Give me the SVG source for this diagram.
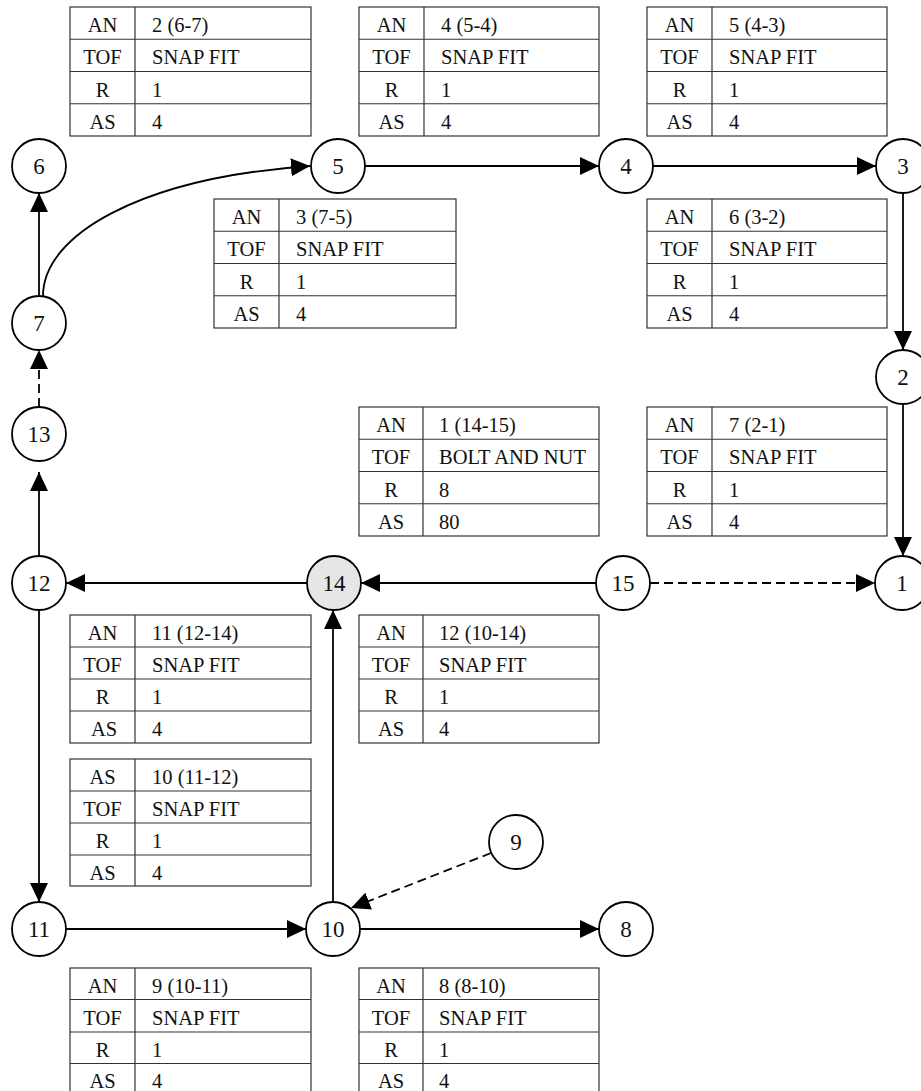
<svg xmlns="http://www.w3.org/2000/svg" width="921" height="1091" viewBox="0 0 921 1091">
<defs>
<style>
.bg{fill:#ffffff}
.tb rect,.tb line{fill:none;stroke:#333;stroke-width:1.2}
.tb text{font-family:"Liberation Serif","Times New Roman",serif;font-size:20.5px;fill:#111}
.tb .k{text-anchor:middle}
.nd circle{fill:#fff;stroke:#000;stroke-width:1.8}
.nd text{font-family:"Liberation Serif","Times New Roman",serif;font-size:23px;fill:#111;text-anchor:middle}
.e{fill:none;stroke:#000;stroke-width:1.8;marker-end:url(#ah)}
.d{stroke-dasharray:9,5}
</style>
<marker id="ah" viewBox="0 0 19 18" refX="19" refY="9" markerWidth="19" markerHeight="18" markerUnits="userSpaceOnUse" orient="auto">
<path d="M0,0 L19,9 L0,18 z" fill="#000"/>
</marker>
</defs>
<rect class="bg" x="0" y="0" width="921" height="1091"/>

<!-- tables -->
<g id="t-an2" class="tb" transform="translate(70,7)">
<rect x="0" y="0" width="241" height="129"/><line x1="65" y1="0" x2="65" y2="129"/><line x1="0" y1="32.25" x2="241" y2="32.25"/><line x1="0" y1="64.5" x2="241" y2="64.5"/><line x1="0" y1="96.75" x2="241" y2="96.75"/>
<text class="k" x="32.5" y="25">AN</text><text x="82" y="25">2 (6-7)</text>
<text class="k" x="32.5" y="57">TOF</text><text x="82" y="57">SNAP FIT</text>
<text class="k" x="32.5" y="89.5">R</text><text x="82" y="89.5">1</text>
<text class="k" x="32.5" y="121.5">AS</text><text x="82" y="121.5">4</text>
</g>
<g id="t-an4" class="tb" transform="translate(359,7)">
<rect x="0" y="0" width="240" height="129"/><line x1="65" y1="0" x2="65" y2="129"/><line x1="0" y1="32.25" x2="240" y2="32.25"/><line x1="0" y1="64.5" x2="240" y2="64.5"/><line x1="0" y1="96.75" x2="240" y2="96.75"/>
<text class="k" x="32.5" y="25">AN</text><text x="82" y="25">4 (5-4)</text>
<text class="k" x="32.5" y="57">TOF</text><text x="82" y="57">SNAP FIT</text>
<text class="k" x="32.5" y="89.5">R</text><text x="82" y="89.5">1</text>
<text class="k" x="32.5" y="121.5">AS</text><text x="82" y="121.5">4</text>
</g>
<g id="t-an5" class="tb" transform="translate(647,7)">
<rect x="0" y="0" width="240" height="129"/><line x1="65" y1="0" x2="65" y2="129"/><line x1="0" y1="32.25" x2="240" y2="32.25"/><line x1="0" y1="64.5" x2="240" y2="64.5"/><line x1="0" y1="96.75" x2="240" y2="96.75"/>
<text class="k" x="32.5" y="25">AN</text><text x="82" y="25">5 (4-3)</text>
<text class="k" x="32.5" y="57">TOF</text><text x="82" y="57">SNAP FIT</text>
<text class="k" x="32.5" y="89.5">R</text><text x="82" y="89.5">1</text>
<text class="k" x="32.5" y="121.5">AS</text><text x="82" y="121.5">4</text>
</g>
<g id="t-an3" class="tb" transform="translate(214,199)">
<rect x="0" y="0" width="242" height="129"/><line x1="65" y1="0" x2="65" y2="129"/><line x1="0" y1="32.25" x2="242" y2="32.25"/><line x1="0" y1="64.5" x2="242" y2="64.5"/><line x1="0" y1="96.75" x2="242" y2="96.75"/>
<text class="k" x="32.5" y="25">AN</text><text x="82" y="25">3 (7-5)</text>
<text class="k" x="32.5" y="57">TOF</text><text x="82" y="57">SNAP FIT</text>
<text class="k" x="32.5" y="89.5">R</text><text x="82" y="89.5">1</text>
<text class="k" x="32.5" y="121.5">AS</text><text x="82" y="121.5">4</text>
</g>
<g id="t-an6" class="tb" transform="translate(647,199)">
<rect x="0" y="0" width="240" height="129"/><line x1="65" y1="0" x2="65" y2="129"/><line x1="0" y1="32.25" x2="240" y2="32.25"/><line x1="0" y1="64.5" x2="240" y2="64.5"/><line x1="0" y1="96.75" x2="240" y2="96.75"/>
<text class="k" x="32.5" y="25">AN</text><text x="82" y="25">6 (3-2)</text>
<text class="k" x="32.5" y="57">TOF</text><text x="82" y="57">SNAP FIT</text>
<text class="k" x="32.5" y="89.5">R</text><text x="82" y="89.5">1</text>
<text class="k" x="32.5" y="121.5">AS</text><text x="82" y="121.5">4</text>
</g>
<g id="t-an1" class="tb" transform="translate(359,407)">
<rect x="0" y="0" width="240" height="129"/><line x1="64" y1="0" x2="64" y2="129"/><line x1="0" y1="32.25" x2="240" y2="32.25"/><line x1="0" y1="64.5" x2="240" y2="64.5"/><line x1="0" y1="96.75" x2="240" y2="96.75"/>
<text class="k" x="32" y="25">AN</text><text x="80" y="25">1 (14-15)</text>
<text class="k" x="32" y="57">TOF</text><text x="80" y="57">BOLT AND NUT</text>
<text class="k" x="32" y="89.5">R</text><text x="80" y="89.5">8</text>
<text class="k" x="32" y="121.5">AS</text><text x="80" y="121.5">80</text>
</g>
<g id="t-an7" class="tb" transform="translate(647,407)">
<rect x="0" y="0" width="240" height="129"/><line x1="65" y1="0" x2="65" y2="129"/><line x1="0" y1="32.25" x2="240" y2="32.25"/><line x1="0" y1="64.5" x2="240" y2="64.5"/><line x1="0" y1="96.75" x2="240" y2="96.75"/>
<text class="k" x="32.5" y="25">AN</text><text x="82" y="25">7 (2-1)</text>
<text class="k" x="32.5" y="57">TOF</text><text x="82" y="57">SNAP FIT</text>
<text class="k" x="32.5" y="89.5">R</text><text x="82" y="89.5">1</text>
<text class="k" x="32.5" y="121.5">AS</text><text x="82" y="121.5">4</text>
</g>
<g id="t-an11" class="tb" transform="translate(70,615)">
<rect x="0" y="0" width="241" height="128"/><line x1="65" y1="0" x2="65" y2="128"/><line x1="0" y1="32" x2="241" y2="32"/><line x1="0" y1="64" x2="241" y2="64"/><line x1="0" y1="96" x2="241" y2="96"/>
<text class="k" x="32.5" y="25">AN</text><text x="82" y="25">11 (12-14)</text>
<text class="k" x="32.5" y="57">TOF</text><text x="82" y="57">SNAP FIT</text>
<text class="k" x="32.5" y="89">R</text><text x="82" y="89">1</text>
<text class="k" x="34" y="121">AS</text><text x="82" y="121">4</text>
</g>
<g id="t-an12" class="tb" transform="translate(359,615)">
<rect x="0" y="0" width="240" height="128"/><line x1="64" y1="0" x2="64" y2="128"/><line x1="0" y1="32" x2="240" y2="32"/><line x1="0" y1="64" x2="240" y2="64"/><line x1="0" y1="96" x2="240" y2="96"/>
<text class="k" x="32" y="25">AN</text><text x="80" y="25">12 (10-14)</text>
<text class="k" x="32" y="57">TOF</text><text x="80" y="57">SNAP FIT</text>
<text class="k" x="32" y="89">R</text><text x="80" y="89">1</text>
<text class="k" x="32" y="121">AS</text><text x="80" y="121">4</text>
</g>
<g id="t-as10" class="tb" transform="translate(70,759)">
<rect x="0" y="0" width="241" height="127"/><line x1="65" y1="0" x2="65" y2="127"/><line x1="0" y1="32" x2="241" y2="32"/><line x1="0" y1="64" x2="241" y2="64"/><line x1="0" y1="96" x2="241" y2="96"/>
<text class="k" x="32.5" y="25">AS</text><text x="82" y="25">10 (11-12)</text>
<text class="k" x="32.5" y="57">TOF</text><text x="82" y="57">SNAP FIT</text>
<text class="k" x="32.5" y="89">R</text><text x="82" y="89">1</text>
<text class="k" x="32.5" y="120.5">AS</text><text x="82" y="120.5">4</text>
</g>
<g id="t-an9" class="tb" transform="translate(70,968)">
<rect x="0" y="0" width="241" height="128"/><line x1="65" y1="0" x2="65" y2="128"/><line x1="0" y1="31.5" x2="241" y2="31.5"/><line x1="0" y1="64" x2="241" y2="64"/><line x1="0" y1="95.5" x2="241" y2="95.5"/>
<text class="k" x="32.5" y="24.5">AN</text><text x="82" y="24.5">9 (10-11)</text>
<text class="k" x="32.5" y="56.5">TOF</text><text x="82" y="56.5">SNAP FIT</text>
<text class="k" x="32.5" y="88.5">R</text><text x="82" y="88.5">1</text>
<text class="k" x="32.5" y="120">AS</text><text x="82" y="120">4</text>
</g>
<g id="t-an8" class="tb" transform="translate(359,968)">
<rect x="0" y="0" width="240" height="128"/><line x1="64" y1="0" x2="64" y2="128"/><line x1="0" y1="31.5" x2="240" y2="31.5"/><line x1="0" y1="64" x2="240" y2="64"/><line x1="0" y1="95.5" x2="240" y2="95.5"/>
<text class="k" x="32" y="24.5">AN</text><text x="80" y="24.5">8 (8-10)</text>
<text class="k" x="32" y="56.5">TOF</text><text x="80" y="56.5">SNAP FIT</text>
<text class="k" x="32" y="88.5">R</text><text x="80" y="88.5">1</text>
<text class="k" x="32" y="120">AS</text><text x="80" y="120">4</text>
</g>

<!-- connectors -->
<g id="connectors">
<line class="e" x1="39" y1="296" x2="39" y2="193"/>
<path class="e" d="M43,296 C43,235 140,178 310,166"/>
<line class="e" x1="365" y1="166" x2="599" y2="166"/>
<line class="e" x1="653" y1="166" x2="876" y2="166"/>
<line class="e" x1="903" y1="193" x2="903" y2="350"/>
<line class="e" x1="903" y1="404" x2="903" y2="556"/>
<line class="e" x1="596" y1="583" x2="361" y2="583"/>
<line class="e d" x1="650" y1="583" x2="875" y2="583"/>
<line class="e" x1="307" y1="583" x2="66" y2="583"/>
<line class="e" x1="39" y1="610" x2="39" y2="472"/>
<line class="e d" x1="39" y1="407" x2="39" y2="350"/>
<line class="e" x1="39" y1="610" x2="39" y2="902"/>
<line class="e" x1="66" y1="929" x2="306" y2="929"/>
<line class="e" x1="333" y1="902" x2="333" y2="610"/>
<line class="e" x1="360" y1="929" x2="599" y2="929"/>
<line class="e d" x1="491" y1="853" x2="351" y2="908"/>
</g>

<!-- nodes -->
<g id="n6" class="nd"><circle cx="39" cy="166" r="27"/><text x="39" y="174">6</text></g>
<g id="n5" class="nd"><circle cx="338" cy="166" r="27"/><text x="338" y="174">5</text></g>
<g id="n4" class="nd"><circle cx="626" cy="166" r="27"/><text x="626" y="174">4</text></g>
<g id="n3" class="nd"><circle cx="903" cy="166" r="27"/><text x="903" y="174">3</text></g>
<g id="n7" class="nd"><circle cx="39" cy="323" r="27"/><text x="39" y="331">7</text></g>
<g id="n13" class="nd"><circle cx="39" cy="434" r="27"/><text x="39" y="442">13</text></g>
<g id="n2" class="nd"><circle cx="903" cy="377" r="27"/><text x="903" y="385">2</text></g>
<g id="n12" class="nd"><circle cx="39" cy="583" r="27"/><text x="39" y="591">12</text></g>
<g id="n14" class="nd"><circle cx="334" cy="583" r="27" style="fill:#e6e6e6"/><text x="334" y="591">14</text></g>
<g id="n15" class="nd"><circle cx="623" cy="583" r="27"/><text x="623" y="591">15</text></g>
<g id="n1" class="nd"><circle cx="902" cy="583" r="27"/><text x="902" y="591">1</text></g>
<g id="n9" class="nd"><circle cx="516" cy="842" r="27"/><text x="516" y="850">9</text></g>
<g id="n11" class="nd"><circle cx="39" cy="929" r="27"/><text x="39" y="937">11</text></g>
<g id="n10" class="nd"><circle cx="333" cy="929" r="27"/><text x="333" y="937">10</text></g>
<g id="n8" class="nd"><circle cx="626" cy="929" r="27"/><text x="626" y="937">8</text></g>
</svg>
